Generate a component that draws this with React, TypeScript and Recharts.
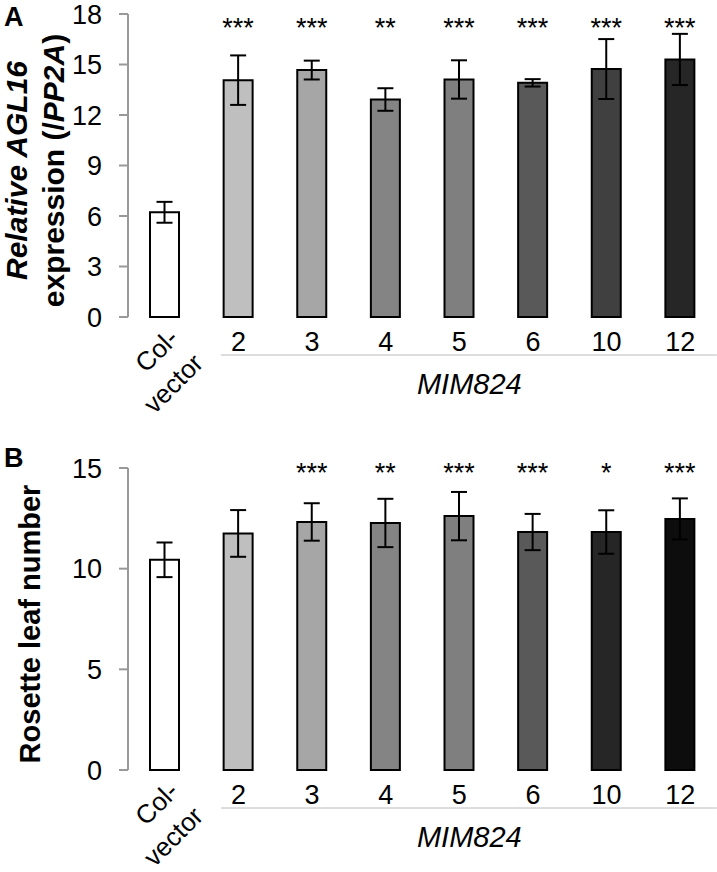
import { BarChart, Bar, XAxis, YAxis, ErrorBar, Cell, LabelList } from 'recharts';

const FONT = 'Arial, "Liberation Sans", sans-serif';
const CHART_W = 717;
const Y_W = 128;

const lines = ['Col-vector', '2', '3', '4', '5', '6', '10', '12'];

// panel A: relative AGL16 expression
const aglMean = [6.22, 14.07, 14.67, 12.92, 14.11, 13.91, 14.73, 15.3];
const aglErr = [0.62, 1.47, 0.56, 0.67, 1.14, 0.22, 1.78, 1.52];
const aglSig = ['', '***', '***', '**', '***', '***', '***', '***'];
const aglShades = ['#ffffff', '#bfbfbf', '#a6a6a6', '#848484', '#7f7f7f', '#595959', '#404040', '#262626'];
const aglTicks = [0, 3, 6, 9, 12, 15, 18];

// panel B: rosette leaf number
const leafMean = [10.44, 11.75, 12.32, 12.27, 12.61, 11.82, 11.82, 12.47];
const leafErr = [0.86, 1.16, 0.93, 1.2, 1.2, 0.9, 1.08, 1.02];
const leafSig = ['', '', '***', '**', '***', '***', '*', '***'];
const leafShades = ['#ffffff', '#bfbfbf', '#a6a6a6', '#848484', '#7f7f7f', '#595959', '#262626', '#0d0d0d'];
const leafTicks = [0, 5, 10, 15];

const band = (CHART_W - Y_W) / lines.length;

const LineTick = (props: any) => {
  const { x, y, payload, index } = props;
  if (index === 0) {
    const ax = x + 15;
    const ay = y + 23;
    return (
      <text
        transform={`rotate(-45, ${ax}, ${ay})`}
        x={ax}
        y={ay}
        textAnchor="end"
        fontSize={26}
        fontFamily={FONT}
        fill="#000"
      >
        <tspan x={ax} dy={0}>Col-</tspan>
        <tspan x={ax} dy={35}>vector</tspan>
      </text>
    );
  }
  return (
    <g>
      {index === 1 && (
        <g>
          <line
            x1={x - 17}
            x2={CHART_W}
            y1={y + 38}
            y2={y + 38}
            stroke="#777"
            strokeWidth={1}
            strokeDasharray="1 1"
          />
          <text
            x={x + 3 * band + 10}
            y={y + 77}
            textAnchor="middle"
            fontSize={29}
            fontStyle="italic"
            fontFamily={FONT}
            fill="#000"
          >
            MIM824
          </text>
        </g>
      )}
      <text x={x} y={y + 34} textAnchor="middle" fontSize={27} fontFamily={FONT} fill="#000">
        {payload.value}
      </text>
    </g>
  );
};

interface PanelProps {
  means: number[];
  errs: number[];
  sig: string[];
  shades: string[];
  ticks: number[];
  height: number;
  top: number;
  axisH: number;
  starY: number;
  letter: string;
  letterY: number;
  yLabel: (cy: number) => JSX.Element;
}

const Panel = ({ means, errs, sig, shades, ticks, height, top, axisH, starY, letter, letterY, yLabel }: PanelProps) => {
  const data = lines.map((name, i) => ({ name, mean: means[i], err: errs[i], sig: sig[i] }));
  const plotH = height - top - axisH;
  const cy = top + plotH / 2 + 5;

  const renderStar = (p: any) => {
    if (!p.value) return null;
    return (
      <text
        x={p.x + p.width / 2}
        y={starY}
        textAnchor="middle"
        fontSize={27}
        fontFamily={FONT}
        fill="#000"
      >
        {p.value}
      </text>
    );
  };

  return (
    <BarChart width={CHART_W} height={height} data={data} margin={{ top, right: 0, left: 0, bottom: 0 }}>
      <XAxis
        dataKey="name"
        axisLine={false}
        tickLine={false}
        tickSize={0}
        tickMargin={0}
        height={axisH}
        interval={0}
        tick={<LineTick />}
      />
      <YAxis
        width={Y_W}
        domain={[ticks[0], ticks[ticks.length - 1]]}
        ticks={ticks}
        interval={0}
        axisLine={{ stroke: '#999', strokeWidth: 2 }}
        tickLine={{ stroke: '#999', strokeWidth: 2 }}
        tickSize={9}
        tickMargin={17}
        tick={{ fontSize: 27, fill: '#000', fontFamily: FONT }}
        label={{
          content: () => (
            <g>
              <text x={4} y={letterY} fontSize={27} fontWeight="bold" fontFamily={FONT} fill="#000">
                {letter}
              </text>
              {yLabel(cy)}
            </g>
          ),
        }}
      />
      <Bar dataKey="mean" barSize={29} stroke="#000" strokeWidth={2} isAnimationActive={false}>
        {data.map((d, i) => (
          <Cell key={d.name} fill={shades[i]} />
        ))}
        <ErrorBar dataKey="err" width={8} stroke="#000" strokeWidth={2} isAnimationActive={false} />
        <LabelList dataKey="sig" content={renderStar} />
      </Bar>
    </BarChart>
  );
};

const aglLabel = (cy: number) => (
  <g fontFamily={FONT} fontWeight="bold" fontSize={30} fill="#000">
    <text transform={`rotate(-90, 27, ${cy})`} x={27} y={cy} textAnchor="middle">
      <tspan fontStyle="italic">Relative AGL16</tspan>
    </text>
    <text transform={`rotate(-90, 64, ${cy})`} x={64} y={cy} textAnchor="middle">
      <tspan>expression (/</tspan>
      <tspan fontStyle="italic">PP2A</tspan>
      <tspan>)</tspan>
    </text>
  </g>
);

const leafLabel = (cy: number) => (
  <text
    transform={`rotate(-90, 40, ${cy})`}
    x={40}
    y={cy}
    textAnchor="middle"
    fontFamily={FONT}
    fontWeight="bold"
    fontSize={29}
    fill="#000"
  >
    Rosette leaf number
  </text>
);

export default function App() {
  return (
    <div style={{ position: 'absolute', left: 0, top: 0, width: CHART_W, background: '#fff' }}>
      <Panel
        means={aglMean}
        errs={aglErr}
        sig={aglSig}
        shades={aglShades}
        ticks={aglTicks}
        height={420}
        top={14}
        axisH={103}
        starY={37}
        letter="A"
        letterY={26}
        yLabel={aglLabel}
      />
      <Panel
        means={leafMean}
        errs={leafErr}
        sig={leafSig}
        shades={leafShades}
        ticks={leafTicks}
        height={452}
        top={48}
        axisH={102}
        starY={62}
        letter="B"
        letterY={47}
        yLabel={leafLabel}
      />
    </div>
  );
}
